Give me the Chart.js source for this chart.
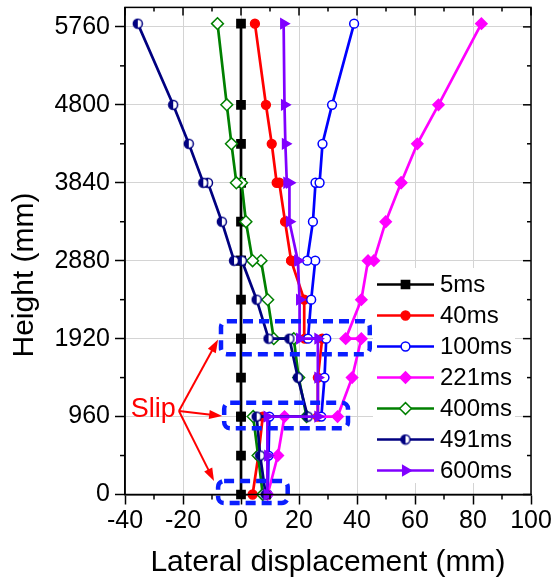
<!DOCTYPE html>
<html>
<head>
<meta charset="utf-8">
<script src="https://cdn.jsdelivr.net/npm/chart.js@4.4.1/dist/chart.umd.min.js"></script>
<style>
html, body { margin: 0; padding: 0; background: #fff; }
</style>
</head>
<body>
<canvas id="chart" width="556" height="583"></canvas>
<script>
// heights (mm); doubled heights are where a slip shows up
const heights = [0, 480, 960, 960, 1440, 1920, 1920, 2400, 2880, 2880, 3360, 3840, 3840, 4320, 4800, 5800];

const seriesNames = ['5ms', '40ms', '100ms', '221ms', '400ms', '491ms', '600ms'];

// lateral displacement (mm) at each height, bottom to top
const disp5ms   = [0, 0, 0, 0, 0, 0, 0, 0, 0, 0, 0, 0, 0, 0, 0, 0];
const disp40ms  = [4.0, 6.0, 7.5, 26.5, 26.5, 28.0, 22.0, 21.8, 17.3, 17.3, 15.2, 13.2, 12.3, 10.6, 8.6, 4.8];
const disp100ms = [9.2, 9.5, 9.8, 27.7, 28.8, 29.4, 23.1, 24.2, 25.6, 22.8, 24.8, 25.7, 27.1, 28.1, 31.4, 39.0];
const disp221ms = [9.2, 12.7, 15.0, 33.3, 38.3, 41.5, 36.1, 41.5, 43.8, 45.8, 49.9, 55.2, 55.2, 60.8, 68.1, 82.9];
const disp400ms = [7.5, 5.9, 4.2, 22.6, 19.9, 18.2, 11.3, 9.2, 6.9, 4.0, 1.7, 0.2, -1.6, -3.3, -4.9, -8.1];
const disp491ms = [8.5, 6.6, 5.4, 23.0, 19.6, 16.7, 9.5, 5.4, 0.3, -2.4, -6.6, -11.4, -13.0, -18.0, -23.4, -35.6];
const disp600ms = [9.0, 9.2, 9.0, 26.5, 26.5, 26.5, 20.2, 20.2, 19.6, 19.6, 16.7, 16.7, 15.8, 15.3, 15.0, 14.7];

const xTicks = [-40, -20, 0, 20, 40, 60, 80, 100];
const yTicks = [0, 960, 1920, 2880, 3840, 4800, 5760];

// dashed boxes round the slip planes: [xMin, xMax, yMin, yMax] in data units
const slipBoxes = [
    [-6.9, 44.4, 1729, 2135],
    [-5.8, 36.9, 815, 1130],
    [-7.9, 16.1, -105, 166]
];
const slipLabel = { x: -38.0, y: 954 };
const arrowFrom = { x: -21.4, y: 1028 };
const arrowTips = [{ x: -7.9, y: 1908 }, { x: -6.5, y: 966 }, { x: -9.3, y: 166 }];

const FONT = "'Liberation Sans', Arial, Helvetica, sans-serif";

function halfCircle(color) {
    const c = document.createElement('canvas');
    c.width = 12; c.height = 12;
    const g = c.getContext('2d');
    g.beginPath(); g.arc(6, 6, 4.5, 0, Math.PI * 2); g.fillStyle = '#fff'; g.fill();
    g.beginPath(); g.arc(6, 6, 4.5, Math.PI / 2, Math.PI * 1.5); g.closePath(); g.fillStyle = color; g.fill();
    g.beginPath(); g.arc(6, 6, 4.5, 0, Math.PI * 2); g.lineWidth = 1.5; g.strokeStyle = color; g.stroke();
    return c;
}

const styles = [
    { color: '#000000', fill: '#000000', style: 'rect', radius: 5.8, rot: 0 },
    { color: '#ff0000', fill: '#ff0000', style: 'circle', radius: 4.4, rot: 0 },
    { color: '#0000ff', fill: '#ffffff', style: 'circle', radius: 4.4, rot: 0 },
    { color: '#ff00ff', fill: '#ff00ff', style: 'rectRot', radius: 5.6, rot: 0 },
    { color: '#008000', fill: '#ffffff', style: 'rectRot', radius: 5.9, rot: 0 },
    { color: '#000080', fill: '#ffffff', style: halfCircle('#000080'), radius: 5, rot: 0 },
    { color: '#8000ff', fill: '#8000ff', style: 'triangle', radius: 5.6, rot: 90 }
];

const allDisp = [disp5ms, disp40ms, disp100ms, disp221ms, disp400ms, disp491ms, disp600ms];

const datasets = seriesNames.map((name, i) => ({
    label: name,
    data: heights.map((h, k) => ({ x: allDisp[i][k], y: h })),
    showLine: true,
    borderColor: styles[i].color,
    backgroundColor: styles[i].fill,
    borderWidth: 2.7,
    pointStyle: styles[i].style,
    pointRadius: styles[i].radius,
    pointRotation: styles[i].rot,
    pointBorderColor: styles[i].color,
    pointBackgroundColor: styles[i].fill,
    pointBorderWidth: 1.5,
    tension: 0,
    clip: false,
    order: 10 - i
}));

function line(ctx, x0, y0, x1, y1) {
    ctx.beginPath(); ctx.moveTo(x0, y0); ctx.lineTo(x1, y1); ctx.stroke();
}

function arrow(ctx, x0, y0, x1, y1) {
    const ang = Math.atan2(y1 - y0, x1 - x0), L = 13, W = 4.5;
    line(ctx, x0, y0, x1 - Math.cos(ang) * L * 0.7, y1 - Math.sin(ang) * L * 0.7);
    ctx.beginPath();
    ctx.moveTo(x1, y1);
    ctx.lineTo(x1 - L * Math.cos(ang) + W * Math.sin(ang), y1 - L * Math.sin(ang) - W * Math.cos(ang));
    ctx.lineTo(x1 - L * Math.cos(ang) - W * Math.sin(ang), y1 - L * Math.sin(ang) + W * Math.cos(ang));
    ctx.closePath();
    ctx.fill();
}

const overlay = {
    id: 'overlay',
    afterDatasetsDraw(chart) {
        const { ctx, chartArea: a, scales: { x, y } } = chart;

        // slip boxes
        ctx.save();
        ctx.strokeStyle = '#0a1eff';
        ctx.lineWidth = 4.5;
        ctx.setLineDash([10, 6]);
        slipBoxes.forEach(b => {
            const x0 = x.getPixelForValue(b[0]), x1 = x.getPixelForValue(b[1]);
            const y0 = y.getPixelForValue(b[3]), y1 = y.getPixelForValue(b[2]);
            ctx.beginPath();
            if (ctx.roundRect) ctx.roundRect(x0, y0, x1 - x0, y1 - y0, 6);
            else ctx.rect(x0, y0, x1 - x0, y1 - y0);
            ctx.stroke();
        });
        ctx.restore();

        // Slip label + arrows
        ctx.save();
        ctx.fillStyle = '#ff0000';
        ctx.strokeStyle = '#ff0000';
        ctx.lineWidth = 2;
        ctx.font = '27px ' + FONT;
        ctx.textAlign = 'left';
        ctx.textBaseline = 'alphabetic';
        ctx.fillText('Slip', x.getPixelForValue(slipLabel.x), y.getPixelForValue(slipLabel.y));
        const fx = x.getPixelForValue(arrowFrom.x), fy = y.getPixelForValue(arrowFrom.y);
        arrowTips.forEach(t => arrow(ctx, fx, fy, x.getPixelForValue(t.x), y.getPixelForValue(t.y)));
        ctx.restore();

        // legend
        ctx.save();
        ctx.fillStyle = '#fff';
        ctx.fillRect(373, 268, 142, 215);
        const lx = 377, lw = 57, top = 284.5, step = 31;
        ctx.font = '24px ' + FONT;
        ctx.textBaseline = 'middle';
        chart.data.datasets.forEach((ds, i) => {
            const ry = top + i * step;
            ctx.strokeStyle = ds.borderColor;
            ctx.lineWidth = 2.7;
            line(ctx, lx, ry, lx + lw, ry);
            ctx.fillStyle = ds.pointBackgroundColor;
            ctx.lineWidth = 1.5;
            Chart.helpers.drawPoint(ctx, {
                pointStyle: ds.pointStyle, rotation: ds.pointRotation,
                radius: ds.pointRadius, borderWidth: 1.5
            }, lx + lw / 2, ry);
            ctx.fillStyle = '#000';
            ctx.fillText(ds.label, 440, ry + 1);
        });
        ctx.restore();

        // frame, mirrored and minor ticks
        ctx.save();
        ctx.strokeStyle = '#000';
        ctx.lineWidth = 1.5;
        ctx.strokeRect(a.left, a.top, a.right - a.left, a.bottom - a.top);
        xTicks.forEach((v, i) => {
            const px = x.getPixelForValue(v);
            line(ctx, px, a.top, px, a.top + 8);
            if (i < xTicks.length - 1) {
                const pm = x.getPixelForValue((v + xTicks[i + 1]) / 2);
                line(ctx, pm, a.bottom, pm, a.bottom + 5);
                line(ctx, pm, a.top, pm, a.top + 4);
            }
        });
        yTicks.forEach((v, i) => {
            const py = y.getPixelForValue(v);
            line(ctx, a.right, py, a.right - 8, py);
            if (i < yTicks.length - 1) {
                const pm = y.getPixelForValue((v + yTicks[i + 1]) / 2);
                line(ctx, a.left, pm, a.left - 5, pm);
                line(ctx, a.right, pm, a.right - 4, pm);
            }
        });
        ctx.restore();

        // axis titles
        ctx.save();
        ctx.fillStyle = '#000';
        ctx.font = '30px ' + FONT;
        ctx.textAlign = 'center';
        ctx.textBaseline = 'middle';
        ctx.fillText('Lateral displacement (mm)', (a.left + a.right) / 2, 563);
        ctx.translate(25, 275);
        ctx.rotate(-Math.PI / 2);
        ctx.fillText('Height (mm)', 0, 0);
        ctx.restore();
    }
};

new Chart(document.getElementById('chart'), {
    type: 'scatter',
    data: { datasets: datasets },
    options: {
        responsive: false,
        animation: false,
        devicePixelRatio: 1,
        layout: { padding: { top: 7, right: 25, left: 0, bottom: 0 } },
        plugins: { legend: { display: false }, tooltip: { enabled: false } },
        scales: {
            x: {
                type: 'linear',
                min: -40,
                max: 100,
                afterBuildTicks: s => { s.ticks = xTicks.map(v => ({ value: v })); },
                afterFit: s => { s.height = 88.5; s.paddingLeft = 0; s.paddingRight = 0; },
                grid: { color: '#d4d4d4', lineWidth: 1, tickColor: '#000', tickLength: 10, tickWidth: 1.5 },
                border: { display: true, color: '#000', width: 1.5 },
                ticks: { color: '#000', font: { family: FONT, size: 25 }, padding: 2, maxRotation: 0, autoSkip: false, callback: v => String(v) }
            },
            y: {
                type: 'linear',
                min: 0,
                max: 6000,
                afterBuildTicks: s => { s.ticks = yTicks.map(v => ({ value: v })); },
                afterFit: s => { s.width = 125; s.paddingTop = 0; s.paddingBottom = 0; },
                grid: { color: '#d4d4d4', lineWidth: 1, tickColor: '#000', tickLength: 10, tickWidth: 1.5 },
                border: { display: true, color: '#000', width: 1.5 },
                ticks: { color: '#000', font: { family: FONT, size: 25 }, padding: 5, autoSkip: false, callback: v => String(v) }
            }
        }
    },
    plugins: [overlay]
});
</script>
</body>
</html>
